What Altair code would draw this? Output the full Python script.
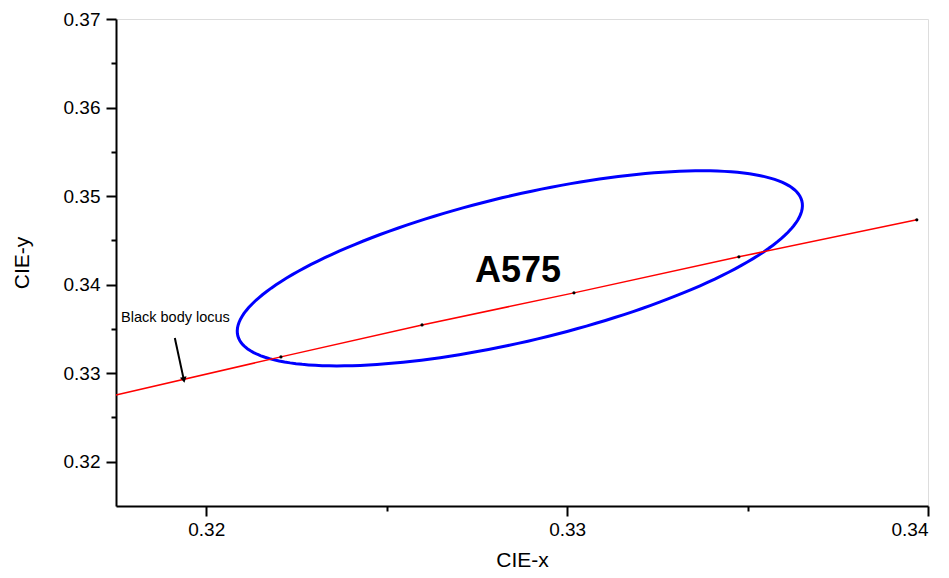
import altair as alt
import numpy as np
import pandas as pd

# ---- data ----
X_DOMAIN = [0.3175, 0.34]
Y_DOMAIN = [0.315, 0.37]
X_MAJOR = [0.32, 0.33, 0.34]
X_MINOR = [0.325, 0.335]
Y_MAJOR = [0.32, 0.33, 0.34, 0.35, 0.36, 0.37]
Y_MINOR = [0.325, 0.335, 0.345, 0.355, 0.365]

# black body locus (line) and its marked points
locus_x = [0.3175, 0.32207, 0.32598, 0.33019, 0.33476, 0.33969]
locus_y = [0.32754, 0.33184, 0.33545, 0.33907, 0.34314, 0.34732]
point_x = [0.32207, 0.32598, 0.33019, 0.33476, 0.33969]
point_y = [0.33184, 0.33545, 0.33907, 0.34314, 0.34732]

# ellipse parameters (center, semi-axes, rotation in degrees)
ellipse_center = [0.32869, 0.34184]
ellipse_axes = [0.01243, 0.00531]
ellipse_angle = [59.2]

# annotations
label_text = ["A575"]
label_pos = [0.32864, 0.34155]
locus_label = ["Black body locus"]
locus_label_pos = [0.31764, 0.33624]
arrow_start = [0.31913, 0.33398]
arrow_end = [0.31938, 0.32924]

# ---- tables ----
t = np.radians(np.arange(0, 361, 2))
th = np.radians(ellipse_angle[0])
a, b = ellipse_axes
ex = ellipse_center[0] + a * np.cos(t) * np.cos(th) - b * np.sin(t) * np.sin(th)
ey = ellipse_center[1] + a * np.cos(t) * np.sin(th) + b * np.sin(t) * np.cos(th)
ell_df = pd.DataFrame({"x": ex, "y": ey, "o": np.arange(len(t))})
locus_df = pd.DataFrame({"x": locus_x, "y": locus_y})
pts_df = pd.DataFrame({"x": point_x, "y": point_y})
lab_df = pd.DataFrame({"x": [label_pos[0]], "y": [label_pos[1]], "t": label_text})
llab_df = pd.DataFrame({"x": [locus_label_pos[0]], "y": [locus_label_pos[1]], "t": locus_label})
arr_df = pd.DataFrame({"x": [arrow_start[0]], "y": [arrow_start[1]],
                       "x2": [arrow_end[0]], "y2": [arrow_end[1]]})
head_df = pd.DataFrame({"x": [arrow_end[0]], "y": [arrow_end[1]]})

FONT = "Liberation Sans"
xs = alt.Scale(domain=X_DOMAIN, nice=False, zero=False)
ys = alt.Scale(domain=Y_DOMAIN, nice=False, zero=False)

major_x_axis = alt.Axis(values=X_MAJOR, format=".2f", orient="bottom", title="CIE-x",
                        grid=False, tickSize=10, tickWidth=2, tickColor="black",
                        domainColor="black", domainWidth=2,
                        labelFont=FONT, labelFontSize=19, labelColor="black", labelPadding=4,
                        titleFont=FONT, titleFontSize=21, titleFontWeight="normal",
                        titleColor="black", titleY=54, titleBaseline="middle")
major_y_axis = alt.Axis(values=Y_MAJOR, format=".2f", orient="left", title="CIE-y",
                        grid=False, tickSize=10, tickWidth=2, tickColor="black",
                        domainColor="black", domainWidth=2,
                        labelFont=FONT, labelFontSize=19, labelColor="black", labelPadding=6,
                        titleFont=FONT, titleFontSize=21, titleFontWeight="normal",
                        titleColor="black", titleX=-94, titleBaseline="middle")
minor_x_axis = alt.Axis(values=X_MINOR, orient="bottom", title=None, labels=False,
                        grid=False, domain=False, tickSize=5, tickWidth=2, tickColor="black")
minor_y_axis = alt.Axis(values=Y_MINOR, orient="left", title=None, labels=False,
                        grid=False, domain=False, tickSize=5, tickWidth=2, tickColor="black")

ellipse = alt.Chart(ell_df).mark_line(color="#0000FF", strokeWidth=3).encode(
    x=alt.X("x:Q", scale=xs, axis=major_x_axis),
    y=alt.Y("y:Q", scale=ys, axis=major_y_axis),
    order="o:Q",
)
locus = alt.Chart(locus_df).mark_line(color="#FF0000", strokeWidth=1.5).encode(
    x=alt.X("x:Q", scale=xs, axis=minor_x_axis),
    y=alt.Y("y:Q", scale=ys, axis=minor_y_axis),
)
points = alt.Chart(pts_df).mark_circle(color="black", size=10, opacity=1).encode(
    x=alt.X("x:Q", scale=xs, axis=None),
    y=alt.Y("y:Q", scale=ys, axis=None),
)
lab = alt.Chart(lab_df).mark_text(font=FONT, fontSize=36, fontWeight="bold",
                                  color="black", align="center", baseline="middle").encode(
    x=alt.X("x:Q", scale=xs, axis=None),
    y=alt.Y("y:Q", scale=ys, axis=None),
    text="t:N",
)
llab = alt.Chart(llab_df).mark_text(font=FONT, fontSize=14.5, color="black",
                                    align="left", baseline="middle").encode(
    x=alt.X("x:Q", scale=xs, axis=None),
    y=alt.Y("y:Q", scale=ys, axis=None),
    text="t:N",
)
arrow = alt.Chart(arr_df).mark_rule(color="black", strokeWidth=2).encode(
    x=alt.X("x:Q", scale=xs, axis=None),
    y=alt.Y("y:Q", scale=ys, axis=None),
    x2="x2:Q",
    y2="y2:Q",
)
head = alt.Chart(head_df).mark_point(shape="triangle-up", angle=168, filled=True,
                                     color="black", size=45, opacity=1).encode(
    x=alt.X("x:Q", scale=xs, axis=None),
    y=alt.Y("y:Q", scale=ys, axis=None),
)

chart = alt.layer(ellipse, locus, points, lab, llab, arrow, head).resolve_axis(
    x="independent", y="independent"
).properties(
    width=812, height=487,
    autosize=alt.AutoSizeParams(type="none"),
    padding={"left": 108, "top": 11, "right": 5, "bottom": 64},
).configure_view(stroke="black", strokeWidth=2).configure(background="white")

chart.save("out.html", embed_options={"renderer": "svg", "actions": False})
